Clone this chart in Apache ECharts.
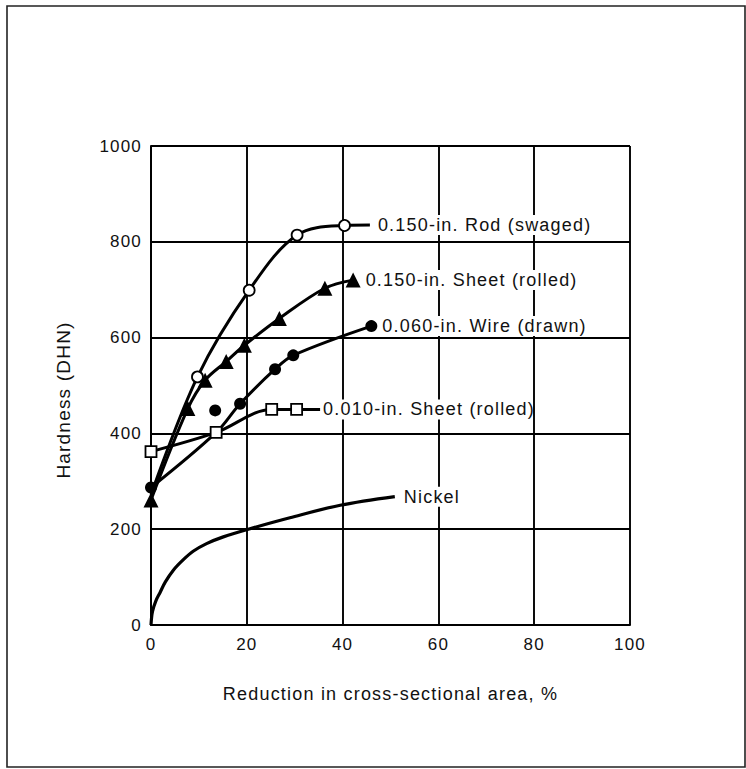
<!DOCTYPE html>
<html>
<head>
<meta charset="utf-8">
<script src="https://cdn.jsdelivr.net/npm/echarts@6/dist/echarts.min.js"></script>
<style>
  html, body { margin: 0; padding: 0; background: #fff; }
  #chart { width: 746px; height: 769px; }
  /* the typeset labels use loose tracking */
  #chart svg text { letter-spacing: 1.2px; }
</style>
</head>
<body>
<div id="chart"></div>
<script>
// Hardness (DHN) against reduction in cross-sectional area (%)

// 0.150-in. rod, swaged (open circles)
const rodX = [0, 9.7, 20.5, 30.5, 40.4, 45.7];
const rodY = [272, 518, 699, 814, 834, 835];
const rodMarked = [false, true, true, true, true, false];

// 0.150-in. sheet, rolled (filled triangles)
const sheet150X = [0, 7.7, 11.3, 15.7, 19.5, 26.8, 36.3, 42.2];
const sheet150Y = [261, 452, 511, 550, 584, 640, 703, 720];
const sheet150Marked = [true, true, true, true, true, true, true, true];

// 0.060-in. wire, drawn (filled circles)
const wireX = [0, 13.6, 18.6, 25.9, 29.7, 46];
const wireY = [287, 402, 462, 534, 563, 624];
const wireMarked = [true, false, true, true, true, true];
// wire reading that lies off the drawn curve
const wireExtraX = [13.4];
const wireExtraY = [448];

// 0.010-in. sheet, rolled (open squares)
const sheet010X = [0, 13.6, 25.2, 30.4, 35.3];
const sheet010Y = [362, 402, 450, 450, 450];
const sheet010Marked = [true, true, true, true, false];

// annealed nickel reference curve
const nickelX = [0, 0.3, 1, 1.9, 3, 4.7, 6.7, 8.8, 11.6, 15.1, 20.3, 29, 39.5, 50.9];
const nickelY = [0, 28, 50, 68, 90, 115, 136, 154, 170, 184, 200, 224, 250, 268];

// axis ticks
const xTicks = [0, 20, 40, 60, 80, 100];
const yTicks = [0, 200, 400, 600, 800, 1000];

const FONT = 'Liberation Sans, Arial, Helvetica, sans-serif';
const INK = '#111';

function endLabel(text, distance, width) {
  return {
    show: true,
    position: 'right',
    distance: distance,
    formatter: text,
    color: INK,
    fontFamily: FONT,
    fontSize: 18,
    backgroundColor: '#fff',
    padding: [1, 2],
    width: width,
    align: 'left'
  };
}

function buildData(xs, ys, marked, label) {
  return xs.map(function (x, i) {
    const item = { value: [x, ys[i]] };
    if (!marked[i]) item.symbolSize = 0;
    if (label && i === xs.length - 1) item.label = label;
    return item;
  });
}

function curve(name, data, symbol, size, fill, z) {
  return {
    name: name,
    type: 'line',
    data: data,
    smooth: 0.35,
    symbol: symbol,
    symbolSize: size,
    showAllSymbol: true,
    lineStyle: { color: '#000', width: 3 },
    itemStyle: { color: fill, borderColor: '#000', borderWidth: fill === '#fff' ? 1.8 : 0, opacity: 1 },
    z: z,
    emphasis: { disabled: true },
    animation: false
  };
}

const chart = echarts.init(document.getElementById('chart'), null, { renderer: 'svg' });

chart.setOption({
  backgroundColor: '#fff',
  animation: false,
  grid: { left: 151, top: 146, width: 479, height: 479, containLabel: false },
  xAxis: {
    type: 'value',
    min: xTicks[0],
    max: xTicks[xTicks.length - 1],
    interval: xTicks[1] - xTicks[0],
    name: 'Reduction in cross-sectional area, %',
    nameLocation: 'middle',
    nameGap: 60,
    nameTextStyle: { color: INK, fontFamily: FONT, fontSize: 18 },
    axisLine: { show: true, lineStyle: { color: '#000', width: 2 } },
    axisTick: { show: false },
    axisLabel: { color: INK, fontFamily: FONT, fontSize: 17, margin: 11, formatter: function (v) { return String(v); } },
    splitLine: { show: true, lineStyle: { color: '#000', width: 1.9 } }
  },
  yAxis: {
    type: 'value',
    min: yTicks[0],
    max: yTicks[yTicks.length - 1],
    interval: yTicks[1] - yTicks[0],
    axisLine: { show: true, lineStyle: { color: '#000', width: 2 } },
    axisTick: { show: false },
    axisLabel: { color: INK, fontFamily: FONT, fontSize: 17, margin: 9, formatter: function (v) { return String(v); } },
    splitLine: { show: true, lineStyle: { color: '#000', width: 1.9 } }
  },
  graphic: [
    {
      type: 'rect',
      shape: { x: 7, y: 6, width: 738, height: 761 },
      style: { fill: 'none', stroke: '#222', lineWidth: 1.6 },
      silent: true
    },
    {
      type: 'text',
      x: 63,
      y: 400,
      rotation: Math.PI / 2,
      style: {
        text: 'Hardness (DHN)',
        fill: INK,
        font: '19px ' + FONT,
        align: 'center',
        verticalAlign: 'middle'
      },
      silent: true
    }
  ],
  series: [
    Object.assign(curve('Nickel',
      buildData(nickelX, nickelY, nickelX.map(function () { return false; }),
        endLabel('Nickel', 7, 57)),
      'circle', 0, '#000', 2), { lineStyle: { color: '#000', width: 3.2 } }),
    curve('0.060-in. Wire (drawn)',
      buildData(wireX, wireY, wireMarked, endLabel('0.060-in. Wire (drawn)', 3, 204)),
      'circle', 12, '#000', 3),
    {
      name: '0.060-in. Wire (drawn) extra',
      type: 'scatter',
      data: wireExtraX.map(function (x, i) { return [x, wireExtraY[i]]; }),
      symbol: 'circle',
      symbolSize: 12,
      itemStyle: { color: '#000', opacity: 1 },
      z: 3,
      emphasis: { disabled: true },
      animation: false
    },
    curve('0.150-in. Sheet (rolled)',
      buildData(sheet150X, sheet150Y, sheet150Marked, endLabel('0.150-in. Sheet (rolled)', 3, 206)),
      'triangle', 15, '#000', 4),
    curve('0.150-in. Rod (swaged)',
      buildData(rodX, rodY, rodMarked, endLabel('0.150-in. Rod (swaged)', 6, 212)),
      'circle', 11, '#fff', 5),
    curve('0.010-in. Sheet (rolled)',
      buildData(sheet010X, sheet010Y, sheet010Marked, endLabel('0.010-in. Sheet (rolled)', 1, 206)),
      'rect', 11, '#fff', 6)
  ]
});
</script>
</body>
</html>
